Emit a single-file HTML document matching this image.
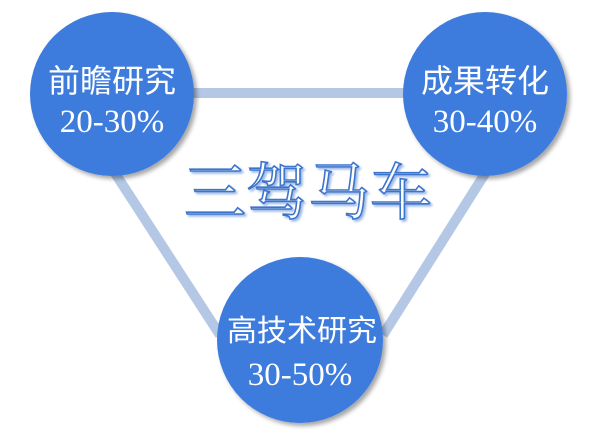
<!DOCTYPE html>
<html><head><meta charset="utf-8"><style>
html,body{margin:0;padding:0;background:#fff;}
svg{display:block}
.cn{font-family:"Liberation Sans","Noto Sans CJK SC",sans-serif;fill:#fff;}
.num{font-family:"Liberation Serif",serif;font-size:33px;fill:#fff;}
.title{font-family:"Liberation Serif","Noto Serif CJK SC",serif;font-size:62px;fill:#fff;stroke:#3c74cc;stroke-width:1.6px;}
</style></head><body>
<svg width="607" height="435" viewBox="0 0 607 435" xmlns="http://www.w3.org/2000/svg">
<defs><filter id="sh" x="-20%" y="-20%" width="140%" height="140%"><feDropShadow dx="3" dy="3" stdDeviation="2" flood-color="#000" flood-opacity="0.35"/></filter>
<filter id="ts"><feDropShadow dx="2" dy="2" stdDeviation="1" flood-color="#3c74cc" flood-opacity="0.5"/></filter></defs>
<g stroke="#b4c8e6" stroke-width="10" fill="none">
<line x1="180" y1="93" x2="420" y2="93"/>
<line x1="113" y1="170" x2="220" y2="335"/>
<line x1="486" y1="172" x2="383" y2="335"/>
</g>
<circle cx="112" cy="94" r="82" fill="#3e7cdc" filter="url(#sh)"/>
<circle cx="485" cy="94" r="82" fill="#3e7cdc" filter="url(#sh)"/>
<circle cx="300" cy="340" r="83" fill="#3e7cdc" filter="url(#sh)"/>
<text class="cn" x="112" y="92" font-size="32" text-anchor="middle">前瞻研究</text>
<text class="num" x="112" y="132" text-anchor="middle">20-30%</text>
<text class="cn" x="485" y="92" font-size="32" text-anchor="middle">成果转化</text>
<text class="num" x="485" y="132" text-anchor="middle">30-40%</text>
<text class="cn" x="302" y="341" font-size="30" text-anchor="middle">高技术研究</text>
<text class="num" x="300" y="385" text-anchor="middle">30-50%</text>
<text class="title" x="308" y="214" text-anchor="middle" filter="url(#ts)">三驾马车</text>
</svg>
</body></html>
